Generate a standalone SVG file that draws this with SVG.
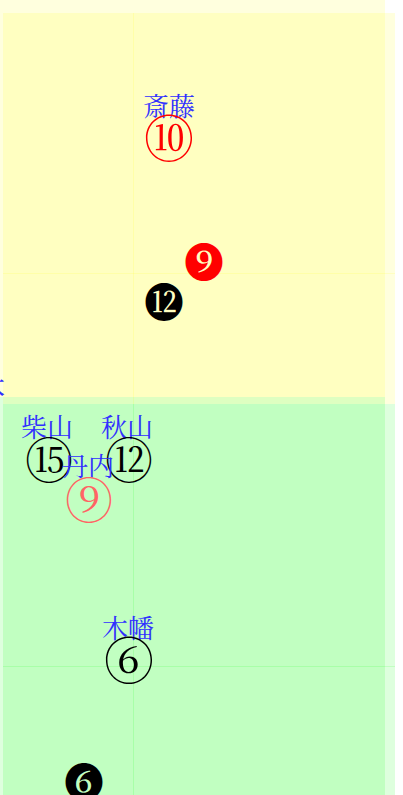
<svg xmlns="http://www.w3.org/2000/svg" width="403" height="795" viewBox="0 0 403 795">
<style>
.y{fill:#ffff00;fill-opacity:0.13}
.g{fill:#00ff00;fill-opacity:0.13}
.yl{stroke:#ffff00;stroke-opacity:0.13;stroke-width:1;fill:none}
.gl{stroke:#00ff00;stroke-opacity:0.13;stroke-width:1;fill:none}
.lbl{font-family:"Noto Serif CJK JP","Noto Sans CJK JP",serif;font-size:26px;fill:#3030ff;text-anchor:middle}
.num{font-family:"Noto Serif CJK JP","Noto Sans CJK JP",serif;font-size:48px;text-anchor:middle}
.neg{font-family:"Noto Serif CJK JP","Noto Sans CJK JP",serif;font-size:40px;text-anchor:middle}
</style>
<g id="areas">
<rect class="y" x="0" y="0" width="385" height="397"/>
<rect class="y" x="3" y="13" width="392" height="391"/>
<line class="yl" x1="133.5" y1="13" x2="133.5" y2="404"/>
<line class="yl" x1="3" y1="273.5" x2="395" y2="273.5"/>
<rect class="g" x="0" y="397" width="385" height="398"/>
<rect class="g" x="3" y="404" width="392" height="391"/>
<line class="gl" x1="133.5" y1="404" x2="133.5" y2="795"/>
<line class="gl" x1="3" y1="666.5" x2="395" y2="666.5"/>
</g>
<g id="connectors"/>
<g id="node-saito">
<text class="lbl" x="169" y="116">斎藤</text>
<text class="num" x="169" y="157" fill="#ff0000" style="font-size:50px">⑩</text>
</g>
<g id="node-red9">
<text class="neg" x="204" y="277" fill="#ff0000">❾</text>
</g>
<g id="node-black12">
<text class="neg" x="164" y="317" fill="#000000">⓬</text>
</g>
<g id="node-edge">
<text class="lbl" x="5" y="397" style="text-anchor:end">木</text>
</g>
<g id="node-shibayama">
<text class="lbl" x="47" y="437">柴山</text>
<text class="num" x="49" y="478" fill="#000000">⑮</text>
</g>
<g id="node-akiyama">
<text class="lbl" x="127" y="437">秋山</text>
<text class="num" x="129" y="478" fill="#000000">⑫</text>
</g>
<g id="node-tannai">
<text class="lbl" x="88" y="476">丹内</text>
<text class="num" x="89" y="518" fill="#ff6464">⑨</text>
</g>
<g id="node-kowata">
<text class="lbl" x="128" y="638">木幡</text>
<text class="num" x="129" y="679" fill="#000000" style="font-size:50px">⑥</text>
</g>
<g id="node-black6">
<text class="neg" x="84" y="797" fill="#000000">❻</text>
</g>
</svg>
